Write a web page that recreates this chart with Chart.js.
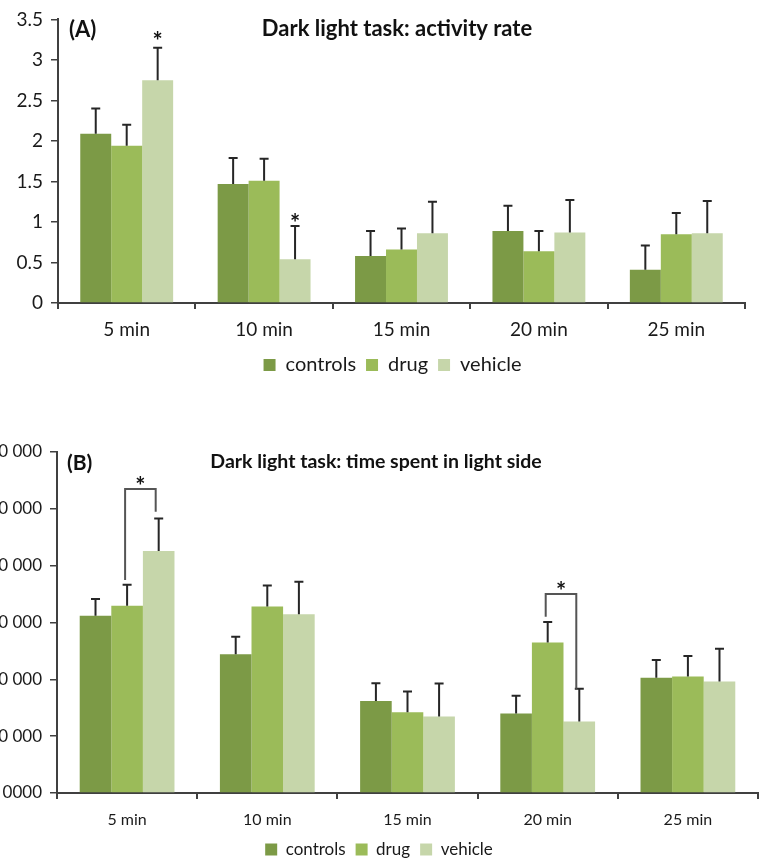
<!DOCTYPE html>
<html>
<head>
<meta charset="utf-8">
<script src="https://cdn.jsdelivr.net/npm/chart.js@4.4.1/dist/chart.umd.min.js"></script>
<style>
  html, body { margin: 0; padding: 0; background: #fff; overflow: hidden; }
  #wrapA { position: absolute; left: 0; top: 0; }
  #wrapB { position: absolute; left: 0; top: 400px; }
</style>
</head>
<body>
<div id="wrapA"><canvas id="chartA" width="774" height="400"></canvas></div>
<div id="wrapB"><canvas id="chartB" width="774" height="470"></canvas></div>
<script>
// categories and series
const times = ["5 min", "10 min", "15 min", "20 min", "25 min"];
const seriesNames = ["controls", "drug", "vehicle"];

// (A) activity rate
const activityControls = [2.09, 1.47, 0.58, 0.89, 0.41];
const activityDrug = [1.94, 1.51, 0.66, 0.64, 0.85];
const activityVehicle = [2.75, 0.54, 0.86, 0.87, 0.86];
const activityControlsErr = [0.31, 0.32, 0.31, 0.31, 0.30];
const activityDrugErr = [0.26, 0.27, 0.26, 0.25, 0.26];
const activityVehicleErr = [0.40, 0.41, 0.39, 0.40, 0.40];

// (B) time spent in light side
const lightControls = [31200, 24400, 16200, 14000, 20300];
const lightDrug = [32950, 32800, 14200, 26500, 20500];
const lightVehicle = [42600, 31450, 13450, 12600, 19600];
const lightControlsErr = [2950, 3100, 3100, 3100, 3100];
const lightDrugErr = [3700, 3700, 3650, 3600, 3600];
const lightVehicleErr = [5700, 5700, 5800, 5750, 5800];

// significance marks: category index, dataset index, star height (data units)
const activityStars = [[0, 2, 3.30], [1, 2, 1.06]];
// brackets: category, left dataset, right dataset, left foot, top, right foot, star height
const lightBrackets = [
  [0, 1, 2, 37500, 53500, 49500, 55100],
  [3, 1, 2, 31000, 35000, 18360, 36500]
];

const colors = ["#7c9a46", "#9bbb59", "#c6d6aa"];
const axisColor = "#404040";
const FONT = "Lato, 'Noto Sans', sans-serif";

function spaced(v) {
  if (v === 0) return "0000";
  return String(v).replace(/\B(?=(\d{3})+(?!\d))/g, " ");
}

const errorBars = {
  id: "errorBars",
  afterDatasetsDraw(chart) {
    const { ctx } = chart;
    const y = chart.scales.y;
    ctx.save();
    ctx.strokeStyle = "#262626";
    ctx.lineWidth = 2;
    chart.data.datasets.forEach((ds, i) => {
      chart.getDatasetMeta(i).data.forEach((bar, j) => {
        const y0 = y.getPixelForValue(ds.data[j]);
        const y1 = y.getPixelForValue(ds.data[j] + ds.errors[j]);
        ctx.beginPath();
        ctx.moveTo(bar.x, y0);
        ctx.lineTo(bar.x, y1);
        ctx.moveTo(bar.x - 4.5, y1);
        ctx.lineTo(bar.x + 4.5, y1);
        ctx.stroke();
      });
    });
    ctx.restore();
  }
};

// nudge the legend sideways (panel A's legend sits right of centre)
const legendShift = {
  id: "legendShift",
  afterLayout(chart, args, opts) {
    const lg = chart.legend;
    if (lg && opts.dx) {
      lg.left += opts.dx;
      lg.right += opts.dx;
    }
  }
};

const annotations = {
  id: "annotations",
  afterDraw(chart, args, opts) {
    const { ctx } = chart;
    const y = chart.scales.y;
    ctx.save();
    ctx.fillStyle = "#111";
    ctx.textBaseline = "middle";
    ctx.textAlign = "center";
    ctx.font = "bold " + opts.titleSize + "px " + FONT;
    ctx.fillText(opts.title, opts.titleX, opts.titleY);
    ctx.textAlign = "left";
    ctx.font = "bold " + opts.panelSize + "px " + FONT;
    ctx.fillText(opts.panel, opts.panelX, opts.panelY);

    ctx.textAlign = "center";
    ctx.font = "bold 24px " + FONT;
    (opts.stars || []).forEach(([c, d, v]) => {
      const bar = chart.getDatasetMeta(d).data[c];
      ctx.fillText("*", bar.x, y.getPixelForValue(v) + 7);
    });

    ctx.strokeStyle = "#555";
    ctx.lineWidth = 2;
    (opts.brackets || []).forEach(([c, dl, dr, lf, top, rf, sv]) => {
      const xl = chart.getDatasetMeta(dl).data[c].x - 2;
      const xr = chart.getDatasetMeta(dr).data[c].x - 3;
      const yt = y.getPixelForValue(top);
      ctx.beginPath();
      ctx.moveTo(xl, y.getPixelForValue(lf));
      ctx.lineTo(xl, yt);
      ctx.lineTo(xr, yt);
      ctx.lineTo(xr, y.getPixelForValue(rf));
      ctx.stroke();
      ctx.fillText("*", (xl + xr) / 2, y.getPixelForValue(sv) + 7);
    });
    ctx.restore();
  }
};

function makeChart(id, values, errors, cfg) {
  const datasets = seriesNames.map((name, i) => ({
    label: name,
    data: values[i],
    errors: errors[i],
    backgroundColor: colors[i],
    borderWidth: 0,
    categoryPercentage: 0.676,
    barPercentage: 1.0
  }));

  return new Chart(document.getElementById(id), {
    type: "bar",
    data: { labels: times, datasets },
    plugins: [errorBars, legendShift, annotations],
    options: {
      responsive: false,
      animation: false,
      layout: { padding: cfg.padding },
      plugins: {
        title: { display: false },
        tooltip: { enabled: false },
        legend: {
          display: true,
          position: "bottom",
          labels: {
            boxWidth: 12,
            boxHeight: 12,
            padding: 10,
            color: "#1a1a1a",
            font: { family: FONT, size: cfg.legendSize }
          }
        },
        legendShift: { dx: cfg.legendDx },
        annotations: cfg.notes
      },
      scales: {
        x: {
          offset: true,
          grid: {
            offset: true,
            drawOnChartArea: false,
            drawTicks: true,
            tickLength: 6,
            color: axisColor,
            lineWidth: 2
          },
          border: { color: axisColor, width: 2 },
          ticks: {
            color: "#1a1a1a",
            padding: cfg.xPad,
            font: { family: FONT, size: cfg.xSize }
          },
          afterFit(s) { s.height = cfg.xHeight; }
        },
        y: {
          min: 0,
          max: cfg.max,
          grid: {
            drawOnChartArea: false,
            drawTicks: true,
            tickLength: 7,
            color: axisColor,
            lineWidth: 1.5
          },
          border: { color: axisColor, width: 2 },
          ticks: {
            stepSize: cfg.step,
            color: "#1a1a1a",
            padding: 8,
            font: { family: FONT, size: cfg.ySize },
            callback: cfg.fmt
          },
          afterFit(s) { s.width = cfg.yWidth; }
        }
      }
    }
  });
}

makeChart("chartA",
  [activityControls, activityDrug, activityVehicle],
  [activityControlsErr, activityDrugErr, activityVehicleErr],
  {
    padding: { top: 17, right: 29, bottom: 15, left: 0 },
    max: 3.5, step: 0.5, fmt: (v) => String(v),
    xSize: 19, ySize: 19, legendSize: 20, legendDx: 20, xPad: 9, xHeight: 42, yWidth: 58,
    notes: {
      title: "Dark light task: activity rate", titleSize: 22, titleX: 397, titleY: 29,
      panel: "(A)", panelSize: 22, panelX: 69, panelY: 30,
      stars: activityStars
    }
  });

makeChart("chartB",
  [lightControls, lightDrug, lightVehicle],
  [lightControlsErr, lightDrugErr, lightVehicleErr],
  {
    padding: { top: 52, right: 16, bottom: 2, left: 0 },
    max: 60000, step: 10000, fmt: (v) => spaced(v),
    xSize: 16, ySize: 17, legendSize: 17, legendDx: 0, xPad: 11, xHeight: 38, yWidth: 57,
    notes: {
      title: "Dark light task: time spent in light side", titleSize: 19.5, titleX: 376, titleY: 62,
      panel: "(B)", panelSize: 21, panelX: 67, panelY: 63,
      brackets: lightBrackets
    }
  });
</script>
</body>
</html>
